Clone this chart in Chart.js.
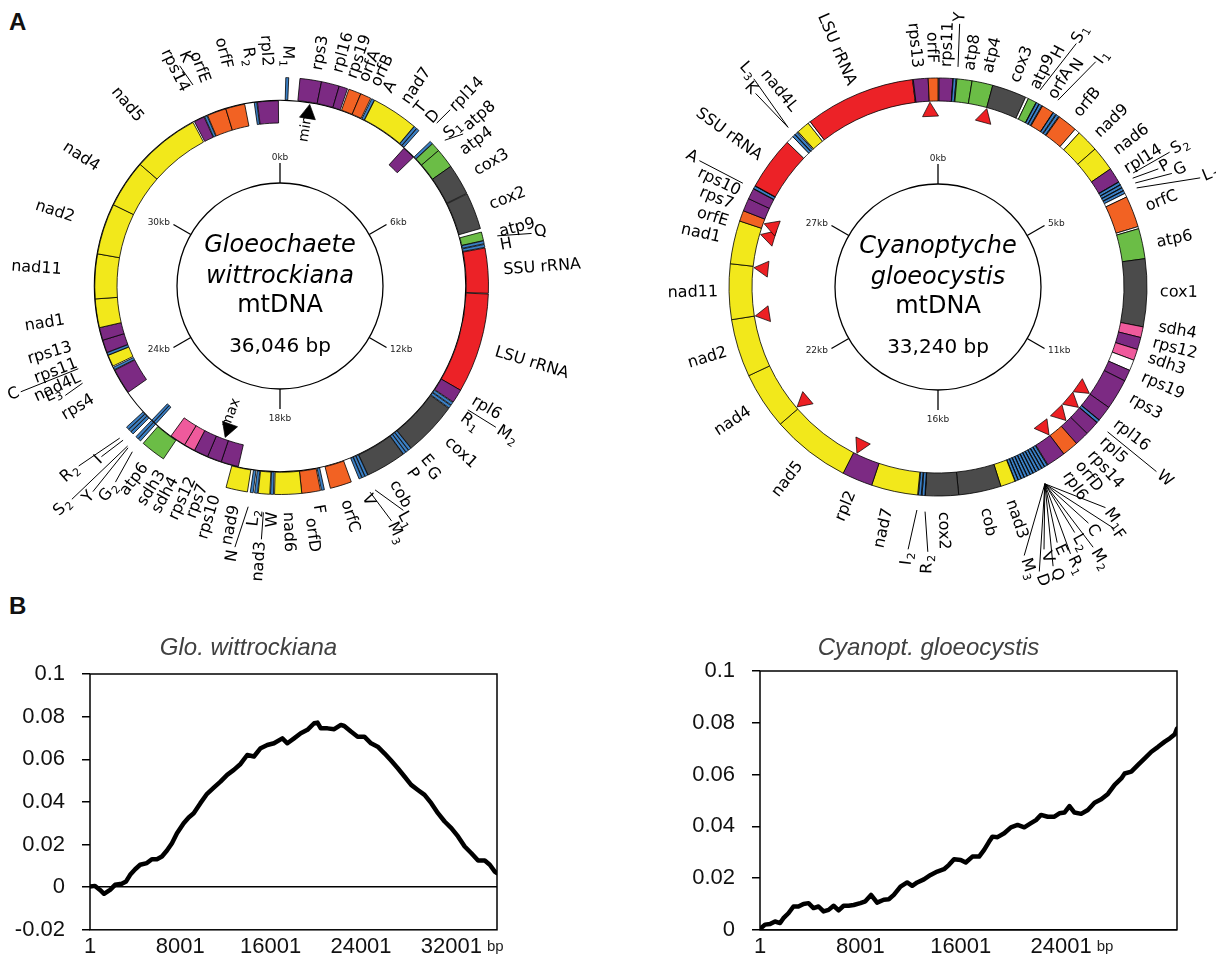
<!DOCTYPE html>
<html lang="en">
<head>
<meta charset="utf-8">
<title>Glaucophyte mtDNA maps and GC skew</title>
<script src="https://cdn.jsdelivr.net/npm/chart.js@4.4.1/dist/chart.umd.min.js"></script>
<style>
  html, body { margin: 0; padding: 0; background: #fff; }
  body { position: relative; width: 1216px; height: 960px; overflow: hidden; }
  canvas { position: absolute; }
  .panel { position: absolute; font: bold 24px "Liberation Sans", Arial, sans-serif; line-height: 24px; color: #111; }
</style>
</head>
<body>
<div class="panel" style="left:9px;top:10px">A</div>
<div class="panel" style="left:9px;top:594px">B</div>
<canvas id="gwMap" width="640" height="640" style="left:-40px;top:-34px"></canvas>
<canvas id="cgMap" width="640" height="640" style="left:618px;top:-33px"></canvas>
<canvas id="gwSkew" width="540" height="335" style="left:0;top:625px"></canvas>
<canvas id="cgSkew" width="500" height="335" style="left:680px;top:625px"></canvas>
<script>
// ============================================================
// DATA — gene maps (positions in bp) and cumulative GC skew
// "_" marks a subscript in tRNA names (M_1 -> M1)
// ============================================================

// Gloeochaete wittrockiana mtDNA
const gwSpecies = ['Gloeochaete', 'wittrockiana'];
const gwLength = 36046;
const gwGenes = ['M_1', 'rps3', 'rpl16', 'rps19', 'orfA', 'orfB', 'A', 'nad7', 'T', 'D',
  'rpl14', 'S_1', 'atp8', 'atp4', 'cox3', 'cox2', 'atp9', 'H', 'Q', 'SSU rRNA',
  'LSU rRNA', 'rpl6', 'R_1', 'M_2', 'cox1', 'E', 'G', 'P', 'cob', 'L_1',
  'V', 'M_3', 'orfC', 'F', 'orfD', 'nad6', 'W', 'nad3', 'L_2', 'N',
  'nad9', 'rps10', 'rps7', 'rps12', 'sdh4', 'sdh3', 'atp6', 'G_2', 'Y', 'S_2',
  'I', 'R_2', 'rps4', 'L_3', 'nad4L', 'C', 'rps11', 'rps13', 'nad1', 'nad11',
  'nad2', 'nad4', 'nad5', 'rps14', 'K', 'orfE', 'orfF', 'R_2', 'rpl2'];
const gwStart = [160, 551, 1151, 1652, 1932, 2283, 2613, 2704, 4015, 4105,
  4205, 4616, 4706, 4956, 5507, 6388, 7510, 7760, 7860, 7960,
  9232, 12016, 12416, 12516, 12616, 14128, 14218, 14308, 14399, 15530,
  15620, 15710, 16021, 16792, 16902, 17423, 18203, 18304, 18644, 18764,
  18924, 19325, 19875, 20326, 20777, 21127, 21427, 22228, 22319, 22509,
  22599, 22689, 23530, 24351, 24471, 24842, 24932, 25332, 25733, 26634,
  28036, 29638, 31140, 33293, 33643, 33743, 34344, 35245, 35345];
const gwEnd = [240, 1151, 1652, 1892, 2283, 2583, 2693, 4005, 4095, 4185,
  4606, 4696, 4956, 5507, 6368, 7410, 7750, 7840, 7940, 9212,
  12016, 12396, 12496, 12596, 14118, 14208, 14298, 14388, 15520, 15610,
  15700, 15790, 16622, 16872, 17423, 18173, 18284, 18624, 18724, 18844,
  19525, 19875, 20326, 20777, 21127, 21628, 22128, 22309, 22399, 22589,
  22679, 22769, 24331, 24431, 24832, 24922, 25332, 25733, 26634, 28036,
  29638, 31140, 33243, 33623, 33723, 34344, 34945, 35325, 35996];
// strand track per gene: o = outside the backbone, i = inside, b = both
const gwTrack = ('oooooooooo' + 'i' + 'oooooooooooooooooooooooooooooo' + 'iiiii' +
  'o' + 'bb' + 'ooo' + 'iiiiiiiiiiiiiiiii').split('');
const gwKbTicks = ['0kb', '6kb', '12kb', '18kb', '24kb', '30kb'];
const gwSkewMarks = ['min', 'max'];
const gwSkewMarkPos = [931, 20016];

// Cyanoptyche gloeocystis mtDNA
const cgSpecies = ['Cyanoptyche', 'gloeocystis'];
const cgLength = 33240;
const cgGenes = ['rps11', 'Y', 'atp8', 'atp4', 'cox3', 'atp9', 'H', 'S_1', 'orfA', 'N',
  'I_1', 'orfB', 'nad9', 'nad6', 'rpl14', 'S_2', 'P', 'G', 'L_1', 'orfC',
  'atp6', 'cox1', 'sdh4', 'rps12', 'sdh3', 'rps19', 'rps3', 'rpl16', 'W', 'rpl5',
  'rps14', 'orfD', 'rpl6', 'M_1', 'F', 'C', 'M_2', 'L_2', 'R_1', 'E',
  'Q', 'V', 'D', 'M_3', 'nad3', 'cob', 'cox2', 'R_2', 'I_2', 'nad7',
  'rpl2', 'nad5', 'nad4', 'nad2', 'nad11', 'nad1', 'orfE', 'rps7', 'rps10', 'A',
  'SSU rRNA', 'K', 'L_3', 'nad4L', 'LSU rRNA', 'rps13', 'orfF'];
const cgStart = [28, 388, 480, 868, 1403, 2364, 2595, 2678, 2770, 3093,
  3185, 3278, 3924, 4497, 5134, 5531, 5614, 5697, 5780, 5955,
  6814, 7590, 9326, 9603, 9917, 10480, 10775, 11560, 11966, 12049,
  12419, 12788, 13204, 13711, 13795, 13878, 13961, 14044, 14127, 14210,
  14293, 14376, 14459, 14542, 14625, 15004, 16094, 16952, 17045, 17137,
  18328, 19113, 21144, 22612, 24099, 25521, 26629, 26906, 27238, 27525,
  27608, 29177, 29260, 29362, 29759, 32612, 32991];
const cgEnd = [379, 462, 868, 1403, 2290, 2585, 2668, 2752, 3084, 3167,
  3259, 3786, 4497, 5134, 5521, 5605, 5688, 5771, 5854, 6759,
  7590, 9326, 9603, 9917, 10203, 10775, 11560, 11957, 12040, 12419,
  12788, 13204, 13693, 13785, 13868, 13951, 14035, 14118, 14201, 14284,
  14367, 14450, 14533, 14616, 15004, 16094, 16943, 17026, 17118, 18328,
  19113, 21144, 22612, 24099, 25521, 26629, 26906, 27238, 27515, 27598,
  28975, 29250, 29334, 29695, 32594, 32991, 33240];
const cgKbTicks = ['0kb', '5kb', '11kb', '16kb', '22kb', '27kb'];
// red arrowheads inside the ring
const cgArrowPos = [1413, 11551, 12059, 12576, 13213, 19021, 21200, 24099, 25484, 26453, 26777, 33009];

// Cumulative GC skew (panel B)
const gwSkewTitle = 'Glo. wittrockiana';
const gwSkewBp = [1, 444, 889, 1244, 1778, 2222, 2815, 3200, 3556, 4000,
  4444, 5037, 5481, 5926, 6370, 6815, 7259, 7704, 8296, 8741,
  9185, 9778, 10370, 10963, 11556, 12148, 12741, 13333, 13926, 14519,
  15111, 15704, 16296, 17037, 17481, 18074, 18667, 19259, 19852, 20148,
  20444, 21037, 21630, 22222, 22519, 23111, 23704, 24296, 24889, 25481,
  26074, 26667, 27259, 27852, 28444, 29037, 29630, 30222, 30815, 31407,
  32000, 32593, 33185, 33778, 34370, 34963, 35407, 35852, 36046];
const gwSkew = [0.0003, 0.0006, -0.0013, -0.0031, -0.0013, 0.0011, 0.0016, 0.0027, 0.0058, 0.0084,
  0.0105, 0.0113, 0.0131, 0.0131, 0.0144, 0.0172, 0.0206, 0.0253, 0.0300, 0.0327,
  0.0347, 0.0394, 0.0438, 0.0467, 0.0495, 0.0527, 0.0550, 0.0578, 0.0620, 0.0613,
  0.0652, 0.0667, 0.0675, 0.0698, 0.0675, 0.0698, 0.0722, 0.0738, 0.0769, 0.0772,
  0.0745, 0.0745, 0.0741, 0.0761, 0.0756, 0.0730, 0.0706, 0.0706, 0.0675, 0.0659,
  0.0628, 0.0594, 0.0558, 0.0519, 0.0480, 0.0456, 0.0433, 0.0394, 0.0347, 0.0308,
  0.0277, 0.0238, 0.0191, 0.0159, 0.0125, 0.0125, 0.0105, 0.0073, 0.0066];
const gwSkewTicks = [1, 8001, 16001, 24001, 32001];

const cgSkewTitle = 'Cyanopt. gloeocystis';
const cgSkewBp = [1, 400, 800, 1200, 1600, 1867, 2267, 2667, 3067, 3467,
  3867, 4267, 4667, 5067, 5467, 5867, 6267, 6667, 7067, 7467,
  8000, 8400, 8853, 9333, 9867, 10267, 10667, 11200, 11733, 12133,
  12533, 13067, 13600, 14133, 14667, 15067, 15467, 16000, 16400, 16933,
  17467, 17867, 18267, 18533, 18933, 19467, 20000, 20533, 21067, 21600,
  22000, 22400, 22933, 23467, 23867, 24267, 24667, 25067, 25600, 26133,
  26667, 27200, 27733, 28267, 28800, 29067, 29600, 30133, 30667, 31200,
  31733, 32267, 32667, 33067, 33240];
const cgSkew = [0.0003, 0.0020, 0.0022, 0.0032, 0.0026, 0.0045, 0.0064, 0.0090, 0.0090, 0.0100,
  0.0103, 0.0084, 0.0090, 0.0071, 0.0077, 0.0093, 0.0075, 0.0093, 0.0093, 0.0096,
  0.0103, 0.0110, 0.0135, 0.0105, 0.0116, 0.0118, 0.0135, 0.0167, 0.0183, 0.0170,
  0.0183, 0.0195, 0.0212, 0.0225, 0.0234, 0.0251, 0.0273, 0.0270, 0.0260, 0.0283,
  0.0283, 0.0309, 0.0341, 0.0360, 0.0358, 0.0373, 0.0396, 0.0405, 0.0396, 0.0412,
  0.0424, 0.0444, 0.0437, 0.0437, 0.0450, 0.0453, 0.0478, 0.0453, 0.0448, 0.0463,
  0.0491, 0.0504, 0.0525, 0.0560, 0.0585, 0.0604, 0.0611, 0.0637, 0.0662, 0.0688,
  0.0707, 0.0727, 0.0740, 0.0756, 0.0778];
const cgSkewTicks = [1, 8001, 16001, 24001];

// ============================================================
// LABEL LAYOUT — [text, angle in degrees from top, radius, side]
// text reads outward on the right half, inward on the left half
// leaders: [angle1, r1, angle2, r2]
// ============================================================
const gwLabels = [
  ['M_1', 1.8, 219, 'L'], ['rps3', 9.9, 219], ['rpl16', 15.2, 221], ['rps19', 19.1, 220],
  ['orfA', 22.3, 221], ['orfB', 25.5, 222], ['A', 29, 222], ['nad7', 34.3, 222],
  ['T', 38.4, 222], ['D', 42.2, 222], ['rpl14', 44.3, 247], ['S_1', 47.9, 224],
  ['atp8', 49.6, 244], ['atp4', 53.6, 226], ['cox3', 59.7, 226], ['cox2', 69, 225],
  ['atp9', 76.2, 226], ['H', 79.6, 224], ['Q', 78.2, 260], ['SSU rRNA', 85.9, 224],
  ['LSU rRNA', 107, 225], ['rpl6', 120.6, 224], ['R_1', 125.7, 224], ['M_2', 123.3, 261],
  ['cox1', 132.7, 227], ['E', 140, 223], ['G', 140.8, 236], ['P', 144.8, 225],
  ['cob', 150, 226], ['L_1', 151.8, 257], ['V', 157.6, 226], ['M_3', 154.8, 262],
  ['orfC', 163.1, 224], ['F', 170.2, 222], ['orfD', 172.6, 234], ['nad6', 178, 226],
  ['W', 181.8, 226], ['nad3', 184.3, 256], ['L_2', 186.4, 225], ['nad9', 191.6, 224],
  ['N', 190, 268], ['rps10', 197, 219], ['rps7', 201, 213], ['rps12', 204.6, 211],
  ['sdh4', 208.7, 219], ['sdh3', 212.4, 220], ['atp6', 217, 224], ['G_2', 219.7, 258],
  ['Y', 222.2, 280], ['S_2', 224.5, 301], ['I', 226.2, 249], ['R_2', 228.3, 272],
  ['rps4', 239, 218], ['L_3', 244.4, 243], ['nad4L', 245.5, 220], ['C', 247.9, 282],
  ['rps11', 249.2, 217], ['rps13', 253.7, 217], ['nad1', 261, 218], ['nad11', 274.2, 219],
  ['nad2', 288.3, 217], ['nad4', 303, 217], ['nad5', 319.9, 217], ['rps14', 334, 217],
  ['K', 337.5, 243], ['orfE', 339.8, 217], ['orfF', 346.3, 224], ['R_2', 352.2, 222],
  ['rpl2', 356.6, 220]
];
const gwLeaders = [
  [43.9, 226, 44, 245], [48.5, 220, 50.3, 238], [77, 223, 78.2, 257], [123.4, 225, 123.2, 258],
  [155, 225, 151.2, 256], [156.4, 225, 154.6, 260], [184.2, 227, 184.2, 254],
  [188.2, 223, 189.8, 265], [221.7, 222, 220, 256], [223.2, 222, 222.3, 278],
  [223.6, 221, 224.3, 298], [225.5, 220, 226.3, 247], [226.5, 221, 228.2, 270],
  [243.8, 220, 243, 241], [247.7, 218, 247.8, 280], [336.6, 219, 335.5, 242]
];
const gwMarkText = [['min', 9.3, 146], ['max', 201, 121]];

const cgLabels = [
  ['LSU rRNA', 336.9, 220], ['rps13', 354.5, 220], ['orfF', 358.5, 224], ['rps11', 2.3, 220],
  ['Y', 4.7, 266], ['atp8', 8.4, 219], ['atp4', 13.2, 220], ['cox3', 20.6, 219],
  ['atp9', 26, 221], ['H', 27.2, 258], ['S_1', 29.4, 281], ['orfA', 31.1, 221],
  ['N', 32.2, 256], ['I_1', 35.5, 276], ['orfB', 39, 221], ['nad9', 46.3, 220],
  ['nad6', 52.7, 223], ['rpl14', 58.1, 221], ['S_2', 59.8, 271], ['P', 62, 252],
  ['G', 64.1, 263], ['L_1', 67.5, 287], ['orfC', 69, 223], ['atp6', 78.6, 223],
  ['cox1', 91.3, 222], ['sdh4', 100.3, 224], ['rps12', 104.6, 222], ['sdh3', 108.7, 222],
  ['rps19', 113.8, 223], ['rps3', 120, 222], ['rpl16', 127.5, 223], ['W', 130.2, 289],
  ['rpl5', 133, 224], ['rps14', 137.5, 225], ['orfD', 141.5, 225], ['rpl6', 145.5, 226],
  ['M_1', 142.8, 280], ['F', 143.9, 302], ['C', 147.5, 283], ['M_2', 149.2, 306],
  ['L_2', 150.9, 284], ['R_1', 153.6, 301], ['E', 155, 285], ['Q', 157.6, 305],
  ['V', 158, 286], ['D', 160.4, 305], ['M_3', 162.2, 285],
  ['nad3', 161.3, 225], ['cob', 168, 226], ['cox2', 178.7, 225], ['R_2', 182.2, 268],
  ['I_2', 186.5, 267], ['nad7', 192.7, 227], ['rpl2', 202.8, 222], ['nad5', 218, 224],
  ['nad4', 236.8, 225], ['nad2', 252.9, 221], ['nad11', 268.7, 220], ['nad1', 282.7, 223],
  ['orfE', 287.2, 220], ['rps7', 291.8, 221], ['rps10', 295.6, 220], ['A', 297.9, 273],
  ['SSU rRNA', 306.1, 220], ['K', 316.7, 268], ['L_3', 318.7, 280], ['nad4L', 321, 228]
];
const cgLeaders = [
  [5.2, 221, 4.7, 264], [27.4, 222, 29.6, 280], [32.7, 222, 35, 275], [59.7, 226, 59.8, 268],
  [60.8, 223, 61.8, 250], [62.2, 223, 64.1, 260], [63.5, 222, 67.4, 284], [130.5, 223, 130.2, 286],
  [183.3, 225, 182.2, 265], [185.4, 224, 186.5, 264], [298, 221, 297.9, 270],
  [316.8, 219, 316.7, 266], [316.8, 219, 318.5, 278],
  // tRNA fan below rpl6
  [151.5, 224, 142.8, 277], [151.5, 224, 143.9, 299], [151.5, 224, 147.5, 280],
  [151.5, 224, 149.2, 303], [151.5, 224, 150.9, 281], [151.5, 224, 153.6, 298],
  [151.5, 224, 155, 282], [151.5, 224, 157.6, 302], [151.5, 224, 158, 283],
  [151.5, 224, 160.4, 302], [151.5, 224, 162.2, 282]
];

// ============================================================
// HELPERS
// ============================================================
const MAP_FONT = '"DejaVu Sans", sans-serif';
const SKEW_FONT = '"Liberation Sans", Arial, sans-serif';

function geneColor(name) {
  if (/rRNA/.test(name)) return '#ec2227';
  if (/^nad/.test(name)) return '#f2e81b';
  if (/^sdh/.test(name)) return '#ef5a9c';
  if (/^(cox|cob)/.test(name)) return '#4b4b4b';
  if (/^atp/.test(name)) return '#6bbd46';
  if (/^rp[ls]/.test(name)) return '#7c2a83';
  if (/^orf/.test(name)) return '#f26223';
  return '#3b7fc4'; // tRNA
}

// one doughnut ring: genes of the wanted tracks, with spacer slices between them
function ringDataset(genes, starts, ends, tracks, wanted, total, weight, gap) {
  const idx = genes.map((g, i) => i)
    .filter(i => !tracks || wanted.includes(tracks[i]))
    .sort((a, b) => starts[a] - starts[b]);
  const data = [], bg = [], bc = [], bw = [];
  let pos = 0;
  const pushGap = (len) => { data.push(len); bg.push(gap.fill); bc.push('#000'); bw.push(gap.border); };
  idx.forEach(i => {
    if (starts[i] > pos) pushGap(starts[i] - pos);
    data.push(ends[i] - starts[i]);
    bg.push(geneColor(genes[i]));
    bc.push('#000');
    bw.push(0.8);
    pos = ends[i];
  });
  if (pos < total) pushGap(total - pos);
  return { data, backgroundColor: bg, borderColor: bc, borderWidth: bw, borderJoinStyle: 'miter', weight };
}

function polar(cx, cy, deg, r) {
  const a = (deg - 90) * Math.PI / 180;
  return [cx + r * Math.cos(a), cy + r * Math.sin(a)];
}

// text with an optional subscript after "_"
function drawRich(ctx, text, x, y, align, size) {
  const [base, sub] = text.split('_');
  const mainFont = size + 'px ' + MAP_FONT;
  const subFont = Math.round(size * 0.68) + 'px ' + MAP_FONT;
  ctx.font = mainFont;
  const wb = ctx.measureText(base).width;
  let ws = 0;
  if (sub) { ctx.font = subFont; ws = ctx.measureText(sub).width + 1; }
  const x0 = align === 'right' ? x - wb - ws : x;
  ctx.textAlign = 'left';
  ctx.textBaseline = 'middle';
  ctx.font = mainFont;
  ctx.fillText(base, x0, y);
  if (sub) { ctx.font = subFont; ctx.fillText(sub, x0 + wb + 1, y + size * 0.3); }
}

function drawLabel(ctx, cx, cy, text, deg, r, side, size) {
  const left = side ? side === 'L' : (deg % 360) >= 180;
  const a = deg * Math.PI / 180;
  ctx.save();
  ctx.translate(cx, cy);
  if (left) {
    ctx.rotate(a + Math.PI / 2);
    drawRich(ctx, text, -r, 0, 'right', size);
  } else {
    ctx.rotate(a - Math.PI / 2);
    drawRich(ctx, text, r, 0, 'left', size);
  }
  ctx.restore();
}

// kb scale, centre title, gene labels, leader lines and skew markers
function mapPlugin(cfg) {
  return {
    id: 'mapAnnotations',
    afterDatasetsDraw(chart) {
      const ctx = chart.ctx;
      const arc = chart.getDatasetMeta(0).data[0];
      const cx = arc.x, cy = arc.y;
      ctx.save();
      ctx.fillStyle = '#000';
      ctx.strokeStyle = '#000';

      // inner kb circle
      ctx.lineWidth = 1.3;
      ctx.beginPath();
      ctx.arc(cx, cy, 103, 0, Math.PI * 2);
      ctx.stroke();
      cfg.kbTicks.forEach((lab, i) => {
        const deg = i * 360 / cfg.kbTicks.length;
        const p1 = polar(cx, cy, deg, 103), p2 = polar(cx, cy, deg, 123);
        ctx.beginPath(); ctx.moveTo(p1[0], p1[1]); ctx.lineTo(p2[0], p2[1]); ctx.stroke();
        ctx.font = '9px ' + MAP_FONT;
        ctx.fillStyle = '#222';
        let p;
        if (deg === 0) { p = polar(cx, cy, deg, 126); ctx.textAlign = 'center'; ctx.textBaseline = 'alphabetic'; }
        else if (deg === 180) { p = polar(cx, cy, deg, 128); ctx.textAlign = 'center'; ctx.textBaseline = 'top'; }
        else { p = polar(cx, cy, deg, 127); ctx.textAlign = deg < 180 ? 'left' : 'right'; ctx.textBaseline = 'middle'; }
        ctx.fillText(lab, p[0], p[1]);
      });

      // centre title
      ctx.fillStyle = '#000';
      ctx.textAlign = 'center';
      ctx.textBaseline = 'alphabetic';
      ctx.font = 'italic 24px ' + MAP_FONT;
      ctx.fillText(cfg.species[0], cx, cy - 34);
      ctx.fillText(cfg.species[1], cx, cy - 3.5);
      ctx.font = '24px ' + MAP_FONT;
      ctx.fillText('mtDNA', cx, cy + 26);
      ctx.font = '20px ' + MAP_FONT;
      ctx.fillText(cfg.length.toLocaleString('en-US') + ' bp', cx, cy + 65.5);

      // leader lines
      ctx.lineWidth = 1;
      cfg.leaders.forEach(([d1, r1, d2, r2]) => {
        const a = polar(cx, cy, d1, r1), b = polar(cx, cy, d2, r2);
        ctx.beginPath(); ctx.moveTo(a[0], a[1]); ctx.lineTo(b[0], b[1]); ctx.stroke();
      });

      // gene labels
      cfg.labels.forEach(([t, d, r, side]) => drawLabel(ctx, cx, cy, t, d, r, side, 16));

      // skew markers (triangles pointing at the ring)
      cfg.markers.forEach((bp, i) => {
        const deg = bp / cfg.length * 360;
        const tip = Array.isArray(cfg.markerTip) ? cfg.markerTip[i] : cfg.markerTip;
        const base = tip - 14;
        const half = 8 / base * 180 / Math.PI;
        const p0 = polar(cx, cy, deg, tip), p1 = polar(cx, cy, deg - half, base), p2 = polar(cx, cy, deg + half, base);
        ctx.beginPath();
        ctx.moveTo(p0[0], p0[1]); ctx.lineTo(p1[0], p1[1]); ctx.lineTo(p2[0], p2[1]); ctx.closePath();
        ctx.fillStyle = cfg.markerFill;
        ctx.fill();
        ctx.lineWidth = 0.7;
        ctx.stroke();
      });
      ctx.fillStyle = '#000';
      (cfg.markerText || []).forEach(([t, d, r]) => drawLabel(ctx, cx, cy, t, d, r, null, 14));
      ctx.restore();
    }
  };
}

const mapOptions = (radius, cutoutPx) => ({
  responsive: false,
  animation: false,
  events: [],
  radius: radius,
  cutout: (cutoutPx / radius * 100) + '%',
  plugins: { legend: { display: false }, tooltip: { enabled: false } }
});

// ============================================================
// GENE MAPS (doughnut rings)
// ============================================================
const openGap = { fill: 'rgba(0,0,0,0)', border: 0 };
const boxGap = { fill: '#ffffff', border: 0.8 };

new Chart(document.getElementById('gwMap'), {
  type: 'doughnut',
  data: {
    datasets: [
      ringDataset(gwGenes, gwStart, gwEnd, gwTrack, ['o', 'b'], gwLength, 22.5, openGap),
      { data: [gwLength], backgroundColor: '#000', borderWidth: 0, weight: 1 }, // backbone
      ringDataset(gwGenes, gwStart, gwEnd, gwTrack, ['i', 'b'], gwLength, 22.5, openGap)
    ]
  },
  options: mapOptions(208.5, 163),
  plugins: [mapPlugin({
    species: gwSpecies, length: gwLength, kbTicks: gwKbTicks,
    labels: gwLabels, leaders: gwLeaders,
    markers: gwSkewMarkPos, markerTip: [184, 161], markerFill: '#000',
    markerText: gwMarkText.filter(m => gwSkewMarks.includes(m[0]))
  })]
});

new Chart(document.getElementById('cgMap'), {
  type: 'doughnut',
  data: {
    datasets: [ringDataset(cgGenes, cgStart, cgEnd, null, null, cgLength, 1, boxGap)]
  },
  options: mapOptions(209, 186),
  plugins: [mapPlugin({
    species: cgSpecies, length: cgLength, kbTicks: cgKbTicks,
    labels: cgLabels, leaders: cgLeaders,
    markers: cgArrowPos, markerTip: 185, markerFill: '#ed2024'
  })]
});

// ============================================================
// CUMULATIVE GC SKEW (line charts)
// ============================================================
const skewFrame = {
  id: 'skewFrame',
  afterDraw(chart) {
    const { ctx, chartArea: a } = chart;
    const x = chart.scales.x;
    ctx.save();
    ctx.strokeStyle = '#000';
    ctx.lineWidth = 1.5;
    ctx.strokeRect(a.left, a.top, a.right - a.left, a.bottom - a.top);
    // unit after the last x tick label
    const last = x.ticks[x.ticks.length - 1];
    const px = x.getPixelForValue(last.value);
    ctx.font = '22px ' + SKEW_FONT;
    const w = ctx.measureText(String(last.value)).width;
    ctx.font = '15px ' + SKEW_FONT;
    ctx.fillStyle = '#222';
    ctx.textAlign = 'left';
    ctx.textBaseline = 'alphabetic';
    ctx.fillText('bp', px + w / 2 + 5, a.bottom + 21);
    ctx.restore();
  }
};

function skewChart(id, title, bp, skew, len, yMin, xTicks, yWidth, padRight, titleBottom) {
  return new Chart(document.getElementById(id), {
    type: 'line',
    data: {
      datasets: [{
        data: bp.map((p, i) => ({ x: p, y: skew[i] })),
        borderColor: '#000',
        borderWidth: 4.5,
        pointRadius: 0,
        tension: 0,
        borderJoinStyle: 'round',
        borderCapStyle: 'round'
      }]
    },
    options: {
      responsive: false,
      animation: false,
      events: [],
      layout: { padding: { right: padRight } },
      plugins: {
        legend: { display: false },
        tooltip: { enabled: false },
        title: {
          display: true, text: title, color: '#404040',
          font: { family: SKEW_FONT, size: 24, style: 'italic', weight: 'normal' },
          padding: { top: 8.6, bottom: titleBottom }
        }
      },
      scales: {
        x: {
          type: 'linear', min: 1, max: len,
          grid: { display: false },
          border: { display: false },
          afterBuildTicks: s => { s.ticks = xTicks.map(v => ({ value: v })); },
          afterFit: s => { s.height = 30; },
          ticks: {
            autoSkip: false, maxRotation: 0, padding: -4, color: '#111',
            font: { family: SKEW_FONT, size: 22 },
            callback: v => String(v)
          }
        },
        y: {
          min: yMin, max: 0.1,
          afterFit: s => { s.width = yWidth; },
          border: { display: false },
          grid: {
            color: c => (c.tick && Math.abs(c.tick.value) < 1e-9 ? '#000' : 'rgba(0,0,0,0)'),
            lineWidth: 1.5, tickColor: '#000', tickWidth: 1.5, tickLength: 8
          },
          ticks: {
            stepSize: 0.02, padding: 17, color: '#111',
            font: { family: SKEW_FONT, size: 22 },
            callback: v => String(+v.toFixed(2))
          }
        }
      }
    },
    plugins: [skewFrame]
  });
}

skewChart('gwSkew', gwSkewTitle, gwSkewBp, gwSkew, gwLength, -0.02, gwSkewTicks, 90, 43, 11.6);
skewChart('cgSkew', cgSkewTitle, cgSkewBp, cgSkew, cgLength, 0, cgSkewTicks, 80, 3, 8.6);
</script>
</body>
</html>
